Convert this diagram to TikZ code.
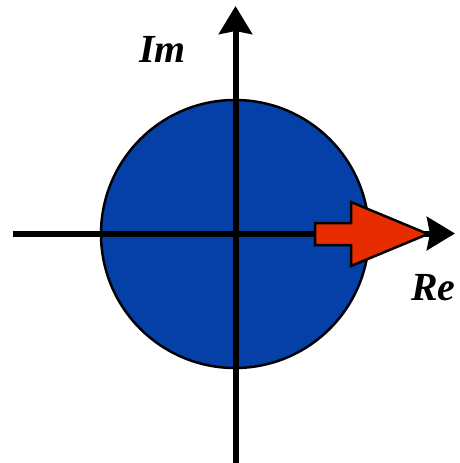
\documentclass[tikz,border=0pt]{standalone}
\usepackage{fontspec}
\setmainfont{Liberation Serif}
\usetikzlibrary{arrows.meta}
\definecolor{discblue}{RGB}{4,64,168}
\definecolor{vecred}{RGB}{232,44,0}
\tikzset{
  axis/.style={line width=6bp, -{Stealth[length=28bp,width=33bp,inset=3bp]}},
  lbl/.style={font=\fontsize{40}{40}\selectfont\bfseries\itshape, inner sep=0pt, anchor=base west},
  disc/.style={circle, draw=black, line width=2.5bp, fill=discblue, minimum size=268bp, inner sep=0pt},
  vec/.style={draw=black, line width=2.5bp, fill=vecred, line join=miter}
}
\begin{document}
\begin{tikzpicture}[x=1bp,y=-1bp]
\useasboundingbox (0,0) rectangle (460,463);
\node[disc] (c) at (235,234) {};
\coordinate (xl) at (13,233.5);
\coordinate (xr) at (455,233.5);
\coordinate (yb) at (235.5,463);
\coordinate (yt) at (235.5,6);
\draw[axis] (xl) -- (xr);
\draw[axis] (yb) -- (yt);
\draw[vec] (315,223) -- (351,223) -- (351,202) -- (428,234) -- (351,266) -- (351,245) -- (315,245) -- cycle;
\node[lbl] (im) at (139,63) {Im};
\node[lbl] (re) at (411,300) {Re};
\end{tikzpicture}
\end{document}
